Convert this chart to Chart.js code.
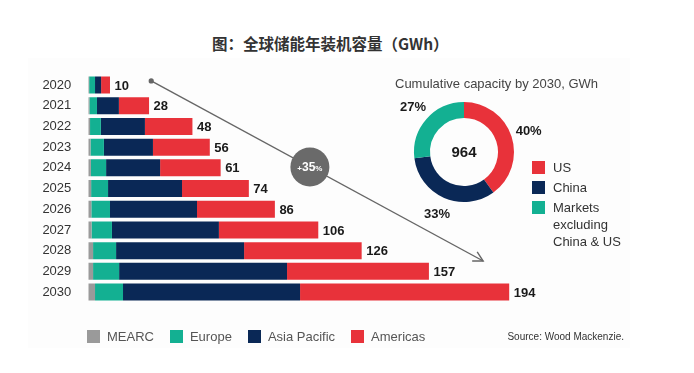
<!DOCTYPE html>
<html>
<head>
<meta charset="utf-8">
<script src="https://cdn.jsdelivr.net/npm/chart.js@4.4.1/dist/chart.umd.min.js"></script>
<style>
  body { margin: 0; background: #fff; }
  #wrap { position: relative; width: 694px; height: 373px; overflow: hidden; font-family: "Liberation Sans", Arial, sans-serif; }
  #panel { position: absolute; left: 28px; top: 58px; width: 602px; height: 290px; background: #fdfdfd; }
  #barBox { position: absolute; left: 0; top: 0; width: 694px; height: 373px; }
  #pieBox { position: absolute; left: 384px; top: 72px; width: 160px; height: 160px; }
  #title { position: absolute; left: 212px; top: 32px; font: bold 15.5px "Noto Sans CJK SC", sans-serif; color: #333; line-height: 22px; white-space: nowrap; }
  #pieTitle { position: absolute; left: 395px; top: 75px; font-size: 13px; color: #444; line-height: 18px; white-space: nowrap; }
  #pieLegend { position: absolute; left: 532px; top: 159px; font-size: 13px; color: #333; }
  #pieLegend .row { display: flex; align-items: flex-start; margin-bottom: 3px; line-height: 17px; }
  #pieLegend .sq { width: 13px; height: 13px; margin: 2px 8px 0 0; flex: none; }
  #pieLegend .txt { max-width: 75px; }
  #legend { position: absolute; left: 87px; top: 328px; display: flex; font-size: 13px; color: #555; line-height: 17px; }
  #legend .item { display: flex; align-items: center; margin-right: 16px; }
  #legend .sq { width: 13px; height: 13px; margin-right: 7px; }
  #source { position: absolute; right: 70px; top: 331px; font-size: 10px; color: #333; line-height: 12px; }
</style>
</head>
<body>
<div id="wrap">
  <div id="panel"></div>
  <div id="title">图：全球储能年装机容量（GWh）</div>
  <div id="barBox"><canvas id="barChart"></canvas></div>
  <div id="pieTitle">Cumulative capacity by 2030, GWh</div>
  <div id="pieBox"><canvas id="pieChart"></canvas></div>
  <div id="pieLegend"></div>
  <div id="legend"></div>
  <div id="source">Source: Wood Mackenzie.</div>
</div>
<script>
// Annual installations by region, GWh
const years = ["2020", "2021", "2022", "2023", "2024", "2025", "2026", "2027", "2028", "2029", "2030"];
const mearc = [0.4, 0.5, 0.8, 1.0, 1.2, 1.3, 1.4, 1.5, 2.2, 2.2, 3.1];
const europe = [2.7, 3.5, 5.0, 6.2, 7.0, 7.8, 8.6, 9.4, 10.6, 12.0, 12.9];
const asiaPacific = [2.8, 10.1, 20.3, 22.6, 24.9, 34.1, 40.1, 49.3, 59.0, 77.4, 81.6];
const americas = [4.1, 13.9, 21.9, 26.2, 27.9, 30.8, 35.9, 45.8, 54.2, 65.4, 96.4];
const totals = [10, 28, 48, 56, 61, 74, 86, 106, 126, 157, 194];

const regionLabels = ["MEARC", "Europe", "Asia Pacific", "Americas"];
const regionColors = ["#9a9a9a", "#13b092", "#0a2856", "#e8323a"];
const regionSeries = [mearc, europe, asiaPacific, americas];

// Cumulative capacity by 2030
const pieLabels = ["US", "China", "Markets excluding China & US"];
const pieShares = [40, 33, 27];
const pieColors = ["#e8323a", "#0a2856", "#13b092"];
const pieTotal = 964;

// Growth arrow (value / category index anchors)
const growthLabel = "+35%";
const arrowFrom = { x: 29, y: -0.2 };
const arrowTo = { x: 182, y: 8.5 };

// Total labels at the end of each bar
const totalsPlugin = {
  id: "totals",
  afterDatasetsDraw(chart) {
    const ctx = chart.ctx;
    const meta = chart.getDatasetMeta(chart.data.datasets.length - 1);
    ctx.save();
    ctx.font = "bold 13px 'Liberation Sans', Arial, sans-serif";
    ctx.fillStyle = "#1a1a1a";
    ctx.textBaseline = "middle";
    meta.data.forEach((bar, i) => {
      ctx.fillText(totals[i], bar.x + 4.5, bar.y + 1);
    });
    ctx.restore();
  }
};

// Arrow with growth bubble
const arrowPlugin = {
  id: "growthArrow",
  afterDraw(chart) {
    const { ctx, scales } = chart;
    const x1 = scales.x.getPixelForValue(arrowFrom.x);
    const y1 = scales.y.getPixelForValue(arrowFrom.y);
    const x2 = scales.x.getPixelForValue(arrowTo.x);
    const y2 = scales.y.getPixelForValue(arrowTo.y);
    const ang = Math.atan2(y2 - y1, x2 - x1);
    ctx.save();
    ctx.strokeStyle = "#666";
    ctx.fillStyle = "#666";
    ctx.lineWidth = 1.4;
    ctx.beginPath();
    ctx.moveTo(x1, y1);
    ctx.lineTo(x2, y2);
    ctx.stroke();
    ctx.beginPath();
    ctx.arc(x1, y1, 2.6, 0, Math.PI * 2);
    ctx.fill();
    // open arrow head
    const len = 11;
    ctx.beginPath();
    ctx.moveTo(x2 - len * Math.cos(ang - 0.5), y2 - len * Math.sin(ang - 0.5));
    ctx.lineTo(x2, y2);
    ctx.lineTo(x2 - len * Math.cos(ang + 0.5), y2 - len * Math.sin(ang + 0.5));
    ctx.stroke();
    // bubble
    const t = 0.478;
    const cx = x1 + (x2 - x1) * t;
    const cy = y1 + (y2 - y1) * t;
    ctx.fillStyle = "#6a6a6a";
    ctx.beginPath();
    ctx.arc(cx, cy, 19.5, 0, Math.PI * 2);
    ctx.fill();
    ctx.fillStyle = "#fff";
    ctx.textBaseline = "alphabetic";
    const sign = growthLabel.slice(0, 1);
    const num = growthLabel.slice(1, -1);
    const pct = growthLabel.slice(-1);
    ctx.font = "bold 8px 'Liberation Sans', Arial, sans-serif";
    const w1 = ctx.measureText(sign).width;
    const w3 = ctx.measureText(pct).width;
    ctx.font = "bold 12px 'Liberation Sans', Arial, sans-serif";
    const w2 = ctx.measureText(num).width;
    let x = cx - (w1 + w2 + w3) / 2;
    ctx.font = "bold 8px 'Liberation Sans', Arial, sans-serif";
    ctx.fillText(sign, x, cy + 4);
    x += w1;
    ctx.font = "bold 12px 'Liberation Sans', Arial, sans-serif";
    ctx.fillText(num, x, cy + 4);
    x += w2;
    ctx.font = "bold 8px 'Liberation Sans', Arial, sans-serif";
    ctx.fillText(pct, x, cy + 4);
    ctx.restore();
  }
};

new Chart(document.getElementById("barChart"), {
  type: "bar",
  data: {
    labels: years,
    datasets: regionLabels.map((label, i) => ({
      label: label,
      data: regionSeries[i],
      backgroundColor: regionColors[i],
      borderWidth: 0,
      barPercentage: 0.82,
      categoryPercentage: 1
    }))
  },
  options: {
    indexAxis: "y",
    responsive: true,
    maintainAspectRatio: false,
    animation: false,
    layout: { padding: { top: 74.7, bottom: 70.6, right: 85, left: 0 } },
    plugins: { legend: { display: false }, tooltip: { enabled: false } },
    scales: {
      x: { stacked: true, min: 0, max: 240, display: false },
      y: {
        stacked: true,
        grid: { display: false },
        border: { display: false },
        ticks: { color: "#333", padding: 9, font: { family: "'Liberation Sans', Arial, sans-serif", size: 13 } },
        afterFit: (scale) => { scale.width = 88.3; }
      }
    }
  },
  plugins: [totalsPlugin, arrowPlugin]
});

// Percent labels and total in the donut
const pieLabelPlugin = {
  id: "pieLabels",
  afterDatasetsDraw(chart) {
    const ctx = chart.ctx;
    const meta = chart.getDatasetMeta(0);
    ctx.save();
    ctx.fillStyle = "#1a1a1a";
    ctx.textAlign = "center";
    ctx.textBaseline = "middle";
    ctx.font = "bold 13px 'Liberation Sans', Arial, sans-serif";
    meta.data.forEach((arc, i) => {
      const mid = (arc.startAngle + arc.endAngle) / 2;
      const r = arc.outerRadius + 18;
      ctx.fillText(pieShares[i] + "%", arc.x + r * Math.cos(mid), arc.y + r * Math.sin(mid));
    });
    const c = meta.data[0];
    ctx.font = "bold 15px 'Liberation Sans', Arial, sans-serif";
    ctx.fillText(pieTotal, c.x, c.y + 1);
    ctx.restore();
  }
};

new Chart(document.getElementById("pieChart"), {
  type: "doughnut",
  data: {
    labels: pieLabels,
    datasets: [{ data: pieShares, backgroundColor: pieColors, borderWidth: 0 }]
  },
  options: {
    responsive: true,
    maintainAspectRatio: false,
    animation: false,
    cutout: "68%",
    layout: { padding: { top: 30, bottom: 30 } },
    plugins: { legend: { display: false }, tooltip: { enabled: false } }
  },
  plugins: [pieLabelPlugin]
});

// HTML legends
document.getElementById("pieLegend").innerHTML = pieLabels
  .map((l, i) => `<div class="row"><div class="sq" style="background:${pieColors[i]}"></div><div class="txt">${l.replace("&", "&amp;")}</div></div>`)
  .join("");

document.getElementById("legend").innerHTML = regionLabels
  .map((l, i) => `<div class="item"><div class="sq" style="background:${regionColors[i]}"></div>${l}</div>`)
  .join("");
</script>
</body>
</html>
